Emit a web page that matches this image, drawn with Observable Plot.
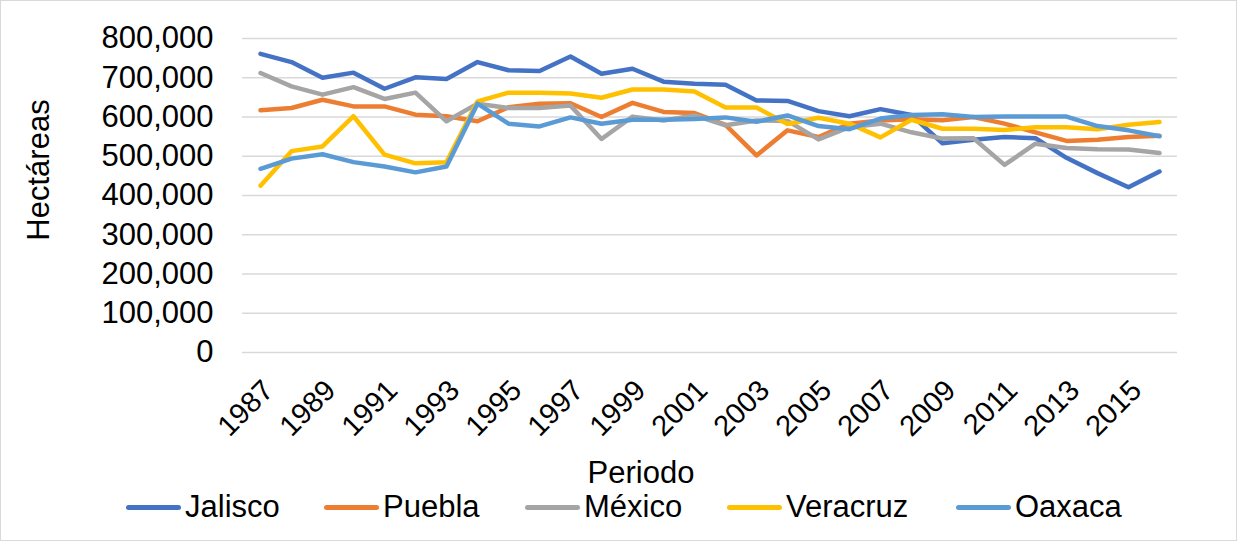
<!DOCTYPE html>
<html><head><meta charset="utf-8">
<script src="https://cdn.jsdelivr.net/npm/d3@7"></script>
<script src="https://cdn.jsdelivr.net/npm/@observablehq/plot@0.6"></script>
<style>
body{margin:0;background:#fff;font-family:"Liberation Sans",Arial,sans-serif;color:#000;}
#wrap{position:relative;width:1238px;height:542px;overflow:hidden;background:#fff;}
#wrap svg{position:absolute;left:0;top:0;}
#frame{position:absolute;left:0;top:0;width:1237px;height:541px;box-sizing:border-box;border:1px solid #d9d9d9;pointer-events:none;}
.ytitle{position:absolute;left:39px;top:170px;transform:translate(-50%,-50%) rotate(-90deg);font-size:31px;line-height:36px;white-space:nowrap;}
.xtitle{position:absolute;left:641px;top:455px;transform:translateX(-50%);font-size:31px;line-height:36px;white-space:nowrap;}
.item{position:absolute;top:489px;height:36px;display:flex;align-items:center;font-size:31px;line-height:36px;white-space:nowrap;}
.sw{display:inline-block;width:55px;height:5px;border-radius:3px;margin-right:4px;}
</style>
</head><body>
<div id="wrap"></div>
<script>
const years = [1987,1988,1989,1990,1991,1992,1993,1994,1995,1996,1997,1998,1999,2000,2001,2002,2003,2004,2005,2006,2007,2008,2009,2010,2011,2012,2013,2014,2015,2016];
const xTickLabels = ["1987","1989","1991","1993","1995","1997","1999","2001","2003","2005","2007","2009","2011","2013","2015"];
const yTicks = [0,100000,200000,300000,400000,500000,600000,700000,800000];
const states = ["Jalisco","Puebla","México","Veracruz","Oaxaca"];
const colors = ["#4472C4","#ED7D31","#A5A5A5","#FFC000","#5B9BD5"];
const jalisco = [761,740,700,713,672,701,697,740,719,717,754,710,723,690,685,682,642,641,615,602,620,605,533,542,549,546,496,457,421,461];
const puebla = [617,623,644,627,627,606,602,589,625,634,635,600,636,613,610,580,502,566,549,583,591,594,592,600,583,561,539,542,549,552];
const mexico = [712,678,657,676,646,662,589,634,623,623,629,544,601,591,604,579,591,590,543,574,583,561,545,546,478,532,521,518,517,508];
const veracruz = [425,513,525,602,504,482,485,640,662,662,660,649,670,670,665,624,624,582,598,583,548,593,570,570,567,574,574,569,580,587];
const oaxaca = [468,494,505,485,474,459,474,634,583,576,599,583,593,593,595,599,588,604,577,569,596,605,607,600,601,601,601,577,566,551];
const seriesValues = [jalisco, puebla, mexico, veracruz, oaxaca];

const rows = [];
states.forEach((s, si) => {
  years.forEach((y, i) => rows.push({state: s, year: y, value: seriesValues[si][i] * 1000}));
});

const chart = Plot.plot({
  width: 1238, height: 445,
  marginTop: 38, marginBottom: 93, marginLeft: 242, marginRight: 61,
  style: {fontFamily: "Liberation Sans, Arial, sans-serif", background: "transparent", overflow: "visible", color: "#000"},
  x: {type: "point", domain: years, padding: 0.5, axis: null},
  y: {domain: [0, 800000], axis: null},
  color: {domain: states, range: colors},
  marks: [
    Plot.ruleY(yTicks, {y: d => d, stroke: "#d9d9d9", strokeWidth: 1.3}),
    Plot.axisY(yTicks, {tickSize: 0, tickPadding: 29, tickFormat: d3.format(","), fontSize: 31, fill: "#000", label: null}),
    Plot.text(xTickLabels, {x: d => Number(d), text: d => d, frameAnchor: "bottom", rotate: -45, textAnchor: "end", lineAnchor: "top", dy: 25, fontSize: 29, fill: "#000"}),
    Plot.line(rows, {x: "year", y: "value", z: "state", stroke: "state", strokeWidth: 4.5, strokeLinejoin: "round", strokeLinecap: "round"})
  ]
});

const wrap = document.getElementById("wrap");
wrap.appendChild(chart);

const yt = document.createElement("div"); yt.className = "ytitle"; yt.textContent = "Hectáreas"; wrap.appendChild(yt);
const xt = document.createElement("div"); xt.className = "xtitle"; xt.textContent = "Periodo"; wrap.appendChild(xt);

const legendLeft = [126, 324, 525, 727, 956];
states.forEach((s, i) => {
  const it = document.createElement("div");
  it.className = "item";
  it.style.left = legendLeft[i] + "px";
  const sw = document.createElement("span");
  sw.className = "sw"; sw.style.background = colors[i];
  it.appendChild(sw);
  it.appendChild(document.createTextNode(s));
  wrap.appendChild(it);
});
const fr = document.createElement("div"); fr.id = "frame"; wrap.appendChild(fr);
</script>
</body></html>
